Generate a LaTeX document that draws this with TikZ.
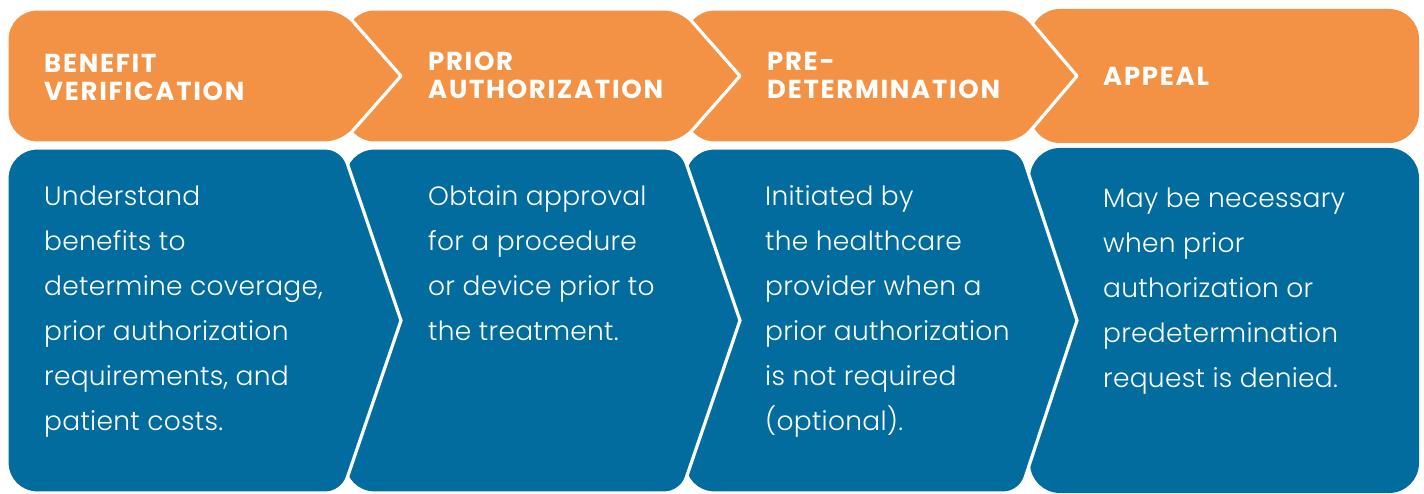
\documentclass[tikz,border=0pt]{standalone}
\usepackage{fontspec}
\setmainfont{Poppins}
\newfontfamily\bodyfont{Poppins Light}
\usetikzlibrary{calc}

\definecolor{steporange}{RGB}{243,146,68}
\definecolor{stepblue}{RGB}{2,108,159}

% Chevron panel: #1 colour, #2 left x, #3 chevron base x, #4 tip x, #5 top y, #6 bottom y
\newcommand\chevronpanel[6]{%
  \pgfmathsetmacro\midy{(#5+#6)/2}
  \coordinate (tl) at (#2,#5);
  \coordinate (tr) at (#3,#5);
  \coordinate (tp) at (#4,\midy);
  \coordinate (br) at (#3,#6);
  \coordinate (bl) at (#2,#6);
  \path[panel=#1]
    ($(tl)!30pt!(bl)$) .. controls ($(tl)!13.4pt!(bl)$) and ($(tl)!13.4pt!(tr)$) .. ($(tl)!30pt!(tr)$)
    -- ($(tr)!16pt!(tl)$) .. controls ($(tr)!7pt!(tl)$) and ($(tr)!7pt!(tp)$) .. ($(tr)!16pt!(tp)$)
    -- (tp)
    -- ($(br)!16pt!(tp)$) .. controls ($(br)!7pt!(tp)$) and ($(br)!7pt!(bl)$) .. ($(br)!16pt!(bl)$)
    -- ($(bl)!30pt!(br)$) .. controls ($(bl)!13.4pt!(br)$) and ($(bl)!13.4pt!(tl)$) .. ($(bl)!30pt!(tl)$)
    -- cycle;
}

\tikzset{
  panel/.style={fill=#1, draw=white, line width=3.2pt, line join=round},
  headtext/.style={anchor=base west, inner sep=0pt, text=white,
    font=\fontsize{26}{28}\selectfont\bfseries\addfontfeatures{LetterSpace=6.5}},
  bodytext/.style={anchor=base west, inner sep=0pt, text=white,
    font=\fontsize{26.5}{45}\selectfont\bodyfont\addfontfeatures{LetterSpace=1}},
}

\begin{document}
\begin{tikzpicture}[x=1pt, y=-1pt]
  \useasboundingbox (0,0) rectangle (1424,494);

  % header row, drawn right to left so each arrow overlaps the next panel
  \path[fill=steporange, rounded corners=30pt] (1030,9) rectangle (1419,143);
  \chevronpanel{steporange}{684}{1020}{1077}{9}{143}
  \chevronpanel{steporange}{344}{681}{740}{9}{143}
  \chevronpanel{steporange}{7}{342}{401}{9}{143}

  % description row
  \path[fill=stepblue, rounded corners=30pt] (1030,148) rectangle (1419,493);
  \chevronpanel{stepblue}{684}{1020}{1077}{148}{493}
  \chevronpanel{stepblue}{344}{681}{740}{148}{493}
  \chevronpanel{stepblue}{7}{342}{401}{148}{493}

  % step titles
  \node[headtext] (h1) at (44,73)  {\parbox[t]{300pt}{BENEFIT\\VERIFICATION}};
  \node[headtext] (h2) at (428,71) {\parbox[t]{300pt}{PRIOR\\AUTHORIZATION}};
  \node[headtext] (h3) at (767,71) {\parbox[t]{300pt}{PRE-\\DETERMINATION}};
  \node[headtext] (h4) at (1103,86) {\parbox[t]{300pt}{APPEAL}};

  % step descriptions
  \node[bodytext] (b1) at (44,206) {\parbox[t]{320pt}{Understand\\benefits to\\determine coverage,\\prior authorization\\requirements, and\\patient costs.}};
  \node[bodytext] (b2) at (428,206) {\parbox[t]{320pt}{Obtain approval\\for a procedure\\or device prior to\\the treatment.}};
  \node[bodytext] (b3) at (765,206) {\parbox[t]{320pt}{Initiated by\\the healthcare\\provider when a\\prior authorization\\is not required\\(optional).}};
  \node[bodytext] (b4) at (1103,208) {\parbox[t]{320pt}{May be necessary\\when prior\\authorization or\\predetermination\\request is denied.}};
\end{tikzpicture}
\end{document}
